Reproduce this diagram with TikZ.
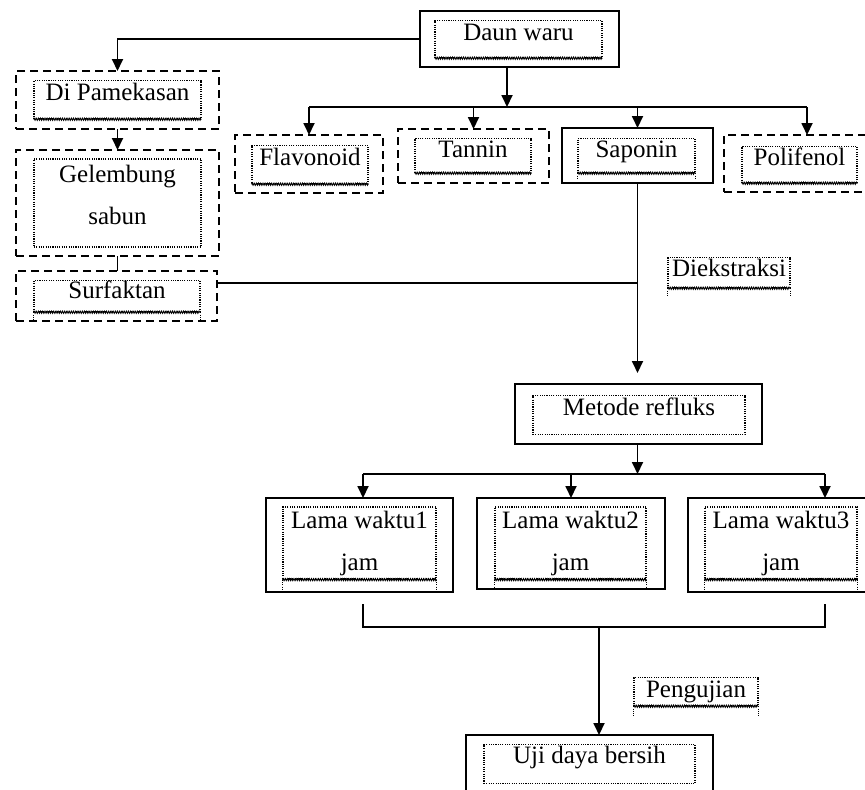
\documentclass[tikz,border=0pt]{standalone}
\usepackage{fontspec}
\setmainfont{Liberation Serif}
\usetikzlibrary{arrows.meta,fit,decorations.pathmorphing}

\begin{document}
\begin{tikzpicture}[
  x=0.5pt,y=-0.5pt,
  font=\fontsize{12.5}{21}\selectfont,
  >={Triangle[length=6pt,width=5.5pt]},
  solidbox/.style={draw,line width=0.9pt,inner sep=0pt,outer sep=0pt},
  dashbox/.style={draw,line width=1pt,dash pattern=on 4pt off 2.5pt,inner sep=0pt,outer sep=0pt},
  frame/.style={draw,line width=0.6pt,dash pattern=on 0.55pt off 0.6pt,inner sep=0pt,anchor=north,align=center},
  wavy/.style={line width=0.45pt,decorate,decoration={zigzag,amplitude=0.55pt,segment length=1.1pt}},
  tail/.style={line width=0.6pt,dash pattern=on 0.55pt off 0.6pt},
  flow/.style={->,line width=0.9pt},
  link/.style={line width=0.9pt},
]
\useasboundingbox (0,0) rectangle (865,789);

% ---------------- outer boxes (pixel grid of the figure) ----------------
\node[solidbox,fit={(420,11) (619,67)}]   (daun)   {};
\node[dashbox, fit={(16,71) (219,129)}]   (pamek)  {};
\node[dashbox, fit={(16,150) (219,256)}]  (gelem)  {};
\node[dashbox, fit={(16,271) (217,321)}]  (surf)   {};
\node[dashbox, fit={(235,135) (383,193)}] (flav)   {};
\node[dashbox, fit={(398,129) (549,183)}] (tann)   {};
\node[solidbox,fit={(562,128) (713,183)}] (sapon)  {};
\node[dashbox, fit={(724,135) (890,192)}] (polif)  {};
\node[solidbox,fit={(515,384) (762,444)}] (metode) {};
\node[solidbox,fit={(266,498) (453,592)}] (lama1)  {};
\node[solidbox,fit={(477,498) (665,589)}] (lama2)  {};
\node[solidbox,fit={(688,498) (870,592)}] (lama3)  {};
\node[solidbox,fit={(466,735) (713,815)}] (uji)    {};

% ---------------- dotted text frames ----------------
\node[frame,minimum width=83.5pt,text height=10pt,text depth=8.5pt]   (daunT)   at (518.5,20)  {Daun waru};
\node[frame,minimum width=83.5pt,text height=10pt,text depth=9pt]     (pamekT)  at (117.5,80)  {Di Pamekasan};
\node[frame,minimum width=83.5pt,minimum height=44pt,anchor=center]   (gelemT)  at (117.5,203) {Gelembung\\sabun\\[-13pt]{}};
\node[frame,minimum width=83pt,text height=9pt,text depth=6.5pt]      (surfT)   at (117,280)   {Surfaktan};
\node[frame,minimum width=58pt,text height=10pt,text depth=9pt]       (flavT)   at (310,145)   {Flavonoid};
\node[frame,minimum width=58pt,text height=9.5pt,text depth=7.5pt]    (tannT)   at (473,138)   {Tannin};
\node[frame,minimum width=58.5pt,text height=9.5pt,text depth=7.5pt]  (saponT)  at (636.5,138) {Saponin};
\node[frame,minimum width=57.5pt,text height=9.5pt,text depth=8.5pt]  (polifT)  at (799.5,146) {Polifenol};
\node[frame,minimum width=61pt,text height=9.5pt,text depth=5.5pt]    (diekT)   at (729,257)   {Diekstraksi};
\node[frame,minimum width=106pt,text height=10pt,text depth=9.5pt]    (metodeT) at (639,395)   {Metode refluks};
\node[frame,minimum width=76.5pt,minimum height=36pt,anchor=center]   (lama1T)  at (359.5,543) {Lama waktu1\\jam};
\node[frame,minimum width=75.5pt,minimum height=36pt,anchor=center]   (lama2T)  at (570.5,543) {Lama waktu2\\jam};
\node[frame,minimum width=76pt,minimum height=36pt,anchor=center]     (lama3T)  at (781,543)   {Lama waktu3\\jam};
\node[frame,minimum width=62pt,text height=10pt,text depth=4pt]       (pengT)   at (696,677)   {Pengujian};
\node[frame,minimum width=105.5pt,text height=9.5pt,text depth=10pt]  (ujiT)    at (589.5,744) {Uji daya bersih};

% wavy bottom edges and the dotted sides running on below them
\foreach \n in {daunT,pamekT,surfT,flavT,tannT,saponT,polifT,lama1T,lama2T,lama3T,diekT,pengT}
  \draw[wavy] (\n.south west) -- (\n.south east);
\foreach \n/\d in {surfT/10,saponT/5,lama1T/13,lama2T/10,lama3T/13,diekT/9,pengT/10}{
  \draw[tail] (\n.south west) -- ++(0,\d);
  \draw[tail] (\n.south east) -- ++(0,\d);
}

% ---------------- connectors ----------------
\coordinate (topbar)   at (507,107);
\coordinate (surfjoin) at (637.5,283);
\coordinate (drop1)    at (363,474);
\coordinate (drop3)    at (825,474);
\coordinate (brL)      at (363,604);
\coordinate (brR)      at (825,604);
\coordinate (brM)      at (599,627);

\draw[flow] (daun.west) -| (pamek.north);
\draw[flow] (pamek) -- (gelem);
\draw[link] (gelem.south) -- (gelem.south |- surf.north);

\draw[flow] (daun.south -| topbar) -- (topbar);
\draw[link] (flav.north |- topbar) -- (polif.north |- topbar);
\foreach \n in {flav,tann,sapon,polif}{\draw[flow] (\n.north |- topbar) -- (\n.north);}

\draw[link] (surfjoin -| surf.east) -- (surfjoin);
\draw[flow,shorten >=5.5pt] (sapon.south) -- (sapon.south |- metode.north);

\draw[flow] (metode.south -| sapon.south) -- (sapon.south |- drop1);
\draw[link] (drop1) -- (drop3);
\draw[flow] (drop1) -- (drop1 |- lama1.north);
\draw[flow] (lama2.north |- drop1) -- (lama2.north);
\draw[flow] (drop3) -- (drop3 |- lama3.north);

\draw[link] (brL) |- (brR |- brM) -- (brR);
\draw[flow] (brM) -- (brM |- uji.north);

\end{tikzpicture}
\end{document}
